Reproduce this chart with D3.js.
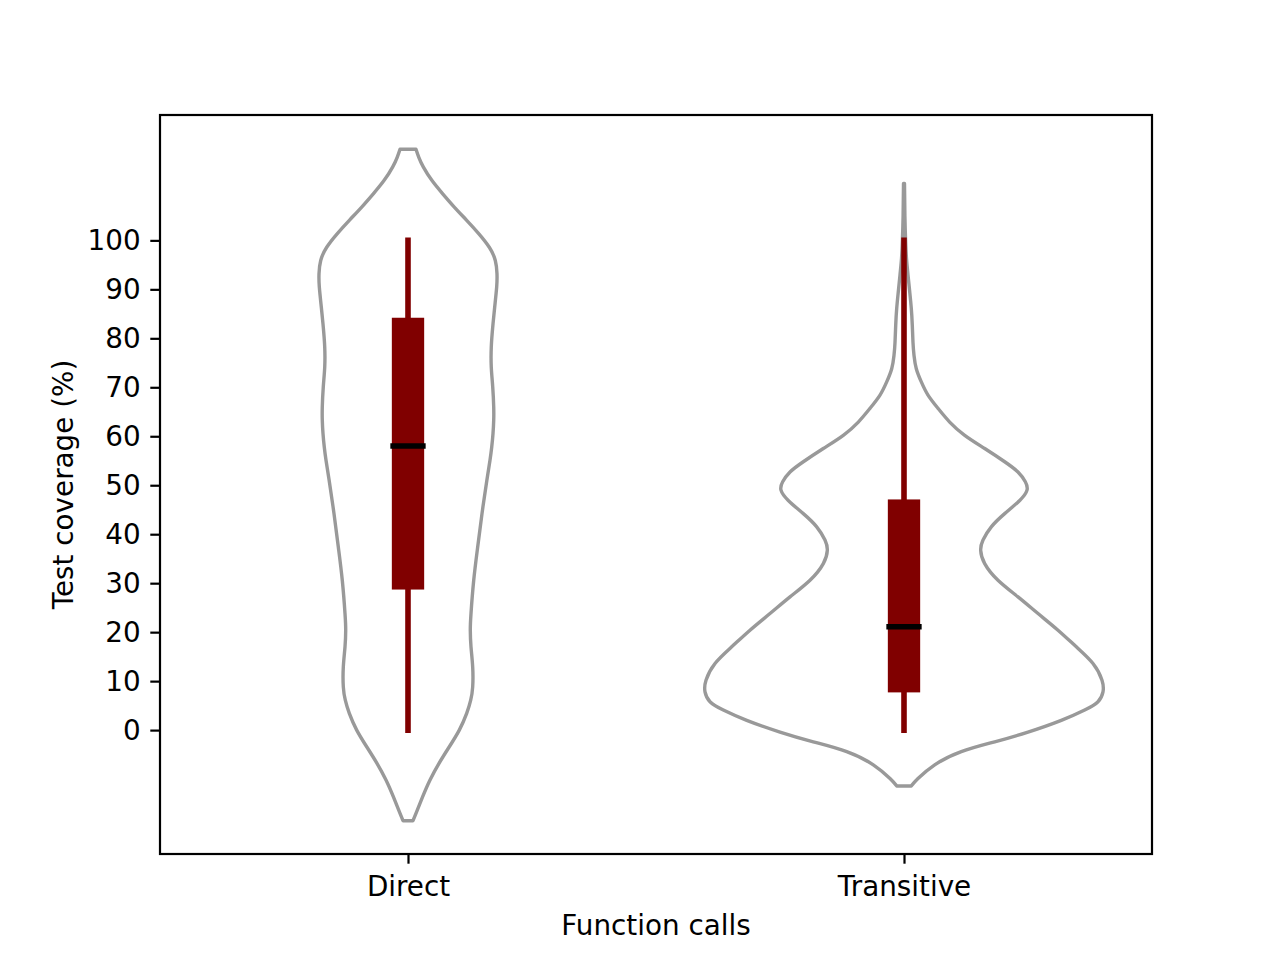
<!DOCTYPE html>
<html>
<head>
<meta charset="utf-8">
<script src="https://cdn.jsdelivr.net/npm/d3@7"></script>
<style>
  html, body { margin: 0; padding: 0; background: #fff; }
  svg { display: block; }
  text { font-family: "DejaVu Sans", sans-serif; fill: #000; }
</style>
</head>
<body>
<svg id="chart" width="1280" height="960"></svg>
<script>
// ---------------- data ----------------
const categories = ["Direct", "Transitive"];
const positions = [1, 2];
const yTicks = [0, 10, 20, 30, 40, 50, 60, 70, 80, 90, 100];
const xDomain = [0.5, 2.5];
const yDomain = [-25.3, 125.6];

// violin outlines: [coverage value, half width in x-axis units]
const directProfile = [
  [118.6, 0.0161], [117.0, 0.0216], [115.0, 0.0308], [112.2, 0.0484],
  [109.5, 0.0700], [106.8, 0.0933], [104.1, 0.1183], [101.4, 0.1425],
  [98.6, 0.1639], [95.9, 0.1760], [93.2, 0.1794], [90.5, 0.1788],
  [86.4, 0.1748], [82.3, 0.1708], [78.2, 0.1679], [74.1, 0.1679],
  [70.1, 0.1708], [66.0, 0.1728], [63.3, 0.1728], [60.6, 0.1714],
  [57.8, 0.1688], [55.1, 0.1653], [51.0, 0.1590], [44.2, 0.1492],
  [37.4, 0.1405], [30.6, 0.1325], [23.8, 0.1270], [20.4, 0.1256],
  [17.0, 0.1270], [12.9, 0.1304], [8.8, 0.1304], [6.1, 0.1264],
  [3.4, 0.1183], [0.0, 0.1034], [-3.4, 0.0833], [-6.7, 0.0631],
  [-10.2, 0.0444], [-13.6, 0.0296], [-17.0, 0.0161], [-18.5, 0.0101]
];
const transitiveProfile = [
  [111.6, 0.0010], [105.0, 0.0018], [100.0, 0.0032], [96.3, 0.0050],
  [92.9, 0.0081], [89.5, 0.0115], [86.1, 0.0147], [82.7, 0.0167],
  [79.2, 0.0181], [76.5, 0.0202], [73.8, 0.0248], [71.1, 0.0349],
  [68.4, 0.0484], [65.7, 0.0685], [62.9, 0.0921], [60.2, 0.1224],
  [57.5, 0.1627], [54.8, 0.2030], [52.7, 0.2298], [50.7, 0.2446],
  [49.0, 0.2480], [46.9, 0.2333], [44.2, 0.2030], [41.5, 0.1760],
  [38.8, 0.1593], [36.7, 0.1546], [34.0, 0.1627], [30.6, 0.1895],
  [27.2, 0.2298], [23.8, 0.2702], [20.4, 0.3105], [17.0, 0.3474],
  [13.6, 0.3810], [10.2, 0.3992], [7.8, 0.4012], [5.8, 0.3911],
  [4.1, 0.3643], [2.0, 0.3171], [-0.4, 0.2500], [-2.4, 0.1829],
  [-4.4, 0.1155], [-7.1, 0.0619], [-9.9, 0.0282], [-11.4, 0.0147]
];
const profiles = [directProfile, transitiveProfile];

const whiskerLow = [0, 0];
const whiskerHigh = [100, 100];
const quartile1 = [28.7, 7.7];
const quartile3 = [84.2, 47.1];
const medians = [58.0, 21.1];

const xLabel = "Function calls";
const yLabel = "Test coverage (%)";

// ---------------- layout ----------------
const svg = d3.select("#chart");
const L = 160, R = 1152, T = 115, B = 854;
const fontPx = 27.8;

const x = d3.scaleLinear().domain(xDomain).range([L, R]);
const y = d3.scaleLinear().domain(yDomain).range([B, T]);

const plot = svg.append("g");

// violins
profiles.forEach((prof, i) => {
  const p = positions[i];
  const area = d3.area()
    .y(d => y(d[0]))
    .x0(d => x(p - d[1]))
    .x1(d => x(p + d[1]))
    .curve(d3.curveNatural);
  plot.append("path")
    .attr("d", area(prof))
    .attr("fill", "none")
    .attr("stroke", "#999999")
    .attr("stroke-width", 3.4)
    .attr("stroke-linejoin", "round");
});

// whiskers, boxes, medians
const boxHalf = 0.0326, medHalf = 0.0356;
positions.forEach((p, i) => {
  plot.append("line")
    .attr("x1", x(p)).attr("x2", x(p))
    .attr("y1", y(whiskerLow[i])).attr("y2", y(whiskerHigh[i]))
    .attr("stroke", "#800000")
    .attr("stroke-width", 5.6)
    .attr("stroke-linecap", "square");
  plot.append("rect")
    .attr("x", x(p - boxHalf))
    .attr("width", x(p + boxHalf) - x(p - boxHalf))
    .attr("y", y(quartile3[i]))
    .attr("height", y(quartile1[i]) - y(quartile3[i]))
    .attr("fill", "#800000");
  plot.append("line")
    .attr("x1", x(p - medHalf)).attr("x2", x(p + medHalf))
    .attr("y1", y(medians[i])).attr("y2", y(medians[i]))
    .attr("stroke", "#000")
    .attr("stroke-width", 5.4);
});

// frame
svg.append("rect")
  .attr("x", L).attr("y", T).attr("width", R - L).attr("height", B - T)
  .attr("fill", "none").attr("stroke", "#000").attr("stroke-width", 2.2);

// axes
const yAxis = d3.axisLeft(y).tickValues(yTicks).tickSize(9.7).tickPadding(9.7).tickSizeOuter(0);
const gy = svg.append("g").attr("transform", `translate(${L},0)`).call(yAxis);
gy.select(".domain").remove();
gy.selectAll(".tick line").attr("stroke", "#000").attr("stroke-width", 2.2);
gy.selectAll(".tick text")
  .attr("font-family", "DejaVu Sans").attr("font-size", fontPx).attr("fill", "#000");

const xAxis = d3.axisBottom(x).tickValues(positions).tickFormat((d, i) => categories[i])
  .tickSize(9.7).tickPadding(9.7).tickSizeOuter(0);
const gx = svg.append("g").attr("transform", `translate(0,${B})`).call(xAxis);
gx.select(".domain").remove();
gx.selectAll(".tick line").attr("stroke", "#000").attr("stroke-width", 2.2);
gx.selectAll(".tick text")
  .attr("font-family", "DejaVu Sans").attr("font-size", fontPx).attr("fill", "#000")
  .attr("dy", "0.8em");

// labels
svg.append("text")
  .attr("x", (L + R) / 2).attr("y", 935)
  .attr("text-anchor", "middle")
  .attr("font-size", fontPx)
  .text(xLabel);

svg.append("text")
  .attr("transform", `translate(73,${(T + B) / 2}) rotate(-90)`)
  .attr("text-anchor", "middle")
  .attr("font-size", fontPx)
  .text(yLabel);
</script>
</body>
</html>
